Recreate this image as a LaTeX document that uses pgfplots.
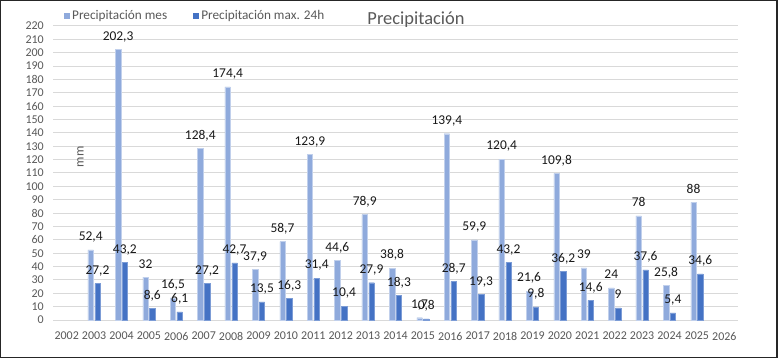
\documentclass[border=0pt]{standalone}
\usepackage{pgfplots}
\pgfplotsset{compat=1.18}
\usepackage{fontspec}
\setmainfont{Carlito}
\definecolor{lightbar}{HTML}{8FAADC}
\definecolor{darkbar}{HTML}{4472C4}
\definecolor{gridc}{HTML}{D9D9D9}
\definecolor{txtgray}{HTML}{595959}
\begin{document}
\begin{tikzpicture}[x=1bp,y=1bp]
\path[use as bounding box] (0,0) rectangle (779,358);
\fill[white] (0,0) rectangle (779,358);
\draw[black!85, line width=1.5bp] (0.75,0.75) rectangle (777,357.25);
\begin{axis}[
  at={(53bp,38bp)}, anchor=south west,
  scale only axis, width=685bp, height=294bp,
  xmin=-0.5, xmax=24.5, ymin=0, ymax=220,
  ytick={0,10,...,220},
  xtick={0,...,24},
  xticklabels={2002,2003,2004,2005,2006,2007,2008,2009,2010,2011,2012,2013,2014,2015,2016,2017,2018,2019,2020,2021,2022,2023,2024,2025,2026},
  ymajorgrids, grid style={gridc, line width=1bp},
  axis line style={draw=none}, major tick length=0pt,
  tick label style={font=\fontsize{12}{14}\selectfont, text=txtgray},
  yticklabel style={anchor=east, inner sep=0pt, xshift=-9bp},
  xticklabel style={anchor=north, inner sep=0pt, yshift=-12bp},
  /pgf/number format/assume math mode=true,
  /pgf/number format/use comma,
  /pgf/number format/1000 sep={},
  ybar=1.3bp, bar width=5.5bp,
  nodes near coords,
  nodes near coords style={font=\fontsize{13.5}{15}\selectfont, text=black!90, anchor=south, inner sep=0pt, text depth=0pt, yshift=9bp},
  legend columns=2,
  legend style={draw=none, fill=none, at={(0.016,1.034)}, anchor=west, font=\fontsize{13.3}{15}\selectfont, text=txtgray, inner sep=0pt, nodes={inner sep=2bp}, /tikz/every even column/.append style={column sep=24bp}},
  legend image code/.code={\fill[#1,draw=none] (0bp,-3bp) rectangle (6bp,3bp);},
  clip=false,
]
\addplot[fill=lightbar, draw=lightbar!55!white, line width=0.4bp] coordinates {
(1,52.4) (2,202.3) (3,32) (4,16.5) (5,128.4) (6,174.4) (7,37.9) (8,58.7) (9,123.9) (10,44.6) (11,78.9) (12,38.8) (13,1.7) (14,139.4) (15,59.9) (16,120.4) (17,21.6) (18,109.8) (19,39) (20,24) (21,78) (22,25.8) (23,88)};
\addplot[fill=darkbar, draw=darkbar!70!white, line width=0.4bp] coordinates {
(1,27.2) (2,43.2) (3,8.6) (4,6.1) (5,27.2) (6,42.7) (7,13.5) (8,16.3) (9,31.4) (10,10.4) (11,27.9) (12,18.3) (13,0.8) (14,28.7) (15,19.3) (16,43.2) (17,9.8) (18,36.2) (19,14.6) (20,9) (21,37.6) (22,5.4) (23,34.6)};
\legend{Precipitación mes, Precipitación max. 24h}
\node[rotate=90, font=\fontsize{13}{15}\selectfont, text=txtgray] at (axis cs:0.5,122) {mm};
\end{axis}
\node[text=txtgray, font=\fontsize{18.5}{20}\selectfont] at (416,338) {Precipitación};
\end{tikzpicture}
\end{document}
